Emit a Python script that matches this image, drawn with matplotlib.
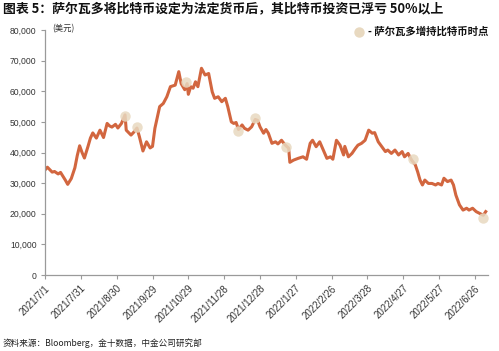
import numpy as np
import pandas as pd
import matplotlib
matplotlib.use('Agg')
import matplotlib.pyplot as plt
from matplotlib.ticker import FuncFormatter

# BTC price (USD)
dates = [
    '2021-07-01', '2021-07-03', '2021-07-07', '2021-07-09', '2021-07-12', '2021-07-14',
    '2021-07-18', '2021-07-20', '2021-07-23', '2021-07-26', '2021-07-28', '2021-07-30',
    '2021-08-01', '2021-08-03', '2021-08-06', '2021-08-08', '2021-08-10', '2021-08-13',
    '2021-08-16', '2021-08-19', '2021-08-22', '2021-08-24', '2021-08-26', '2021-08-29',
    '2021-08-31', '2021-09-03', '2021-09-06', '2021-09-07', '2021-09-11', '2021-09-13',
    '2021-09-16', '2021-09-18', '2021-09-21', '2021-09-24', '2021-09-27', '2021-09-29',
    '2021-10-01', '2021-10-05', '2021-10-08', '2021-10-11', '2021-10-14', '2021-10-18',
    '2021-10-21', '2021-10-23', '2021-10-26', '2021-10-28', '2021-10-29', '2021-10-31',
    '2021-11-02', '2021-11-04', '2021-11-06', '2021-11-09', '2021-11-12', '2021-11-15',
    '2021-11-18', '2021-11-20', '2021-11-23', '2021-11-26', '2021-11-29', '2021-12-01',
    '2021-12-04', '2021-12-06', '2021-12-08', '2021-12-10', '2021-12-13', '2021-12-15',
    '2021-12-18', '2021-12-21', '2021-12-24', '2021-12-26', '2021-12-28', '2021-12-31',
    '2022-01-02', '2022-01-04', '2022-01-07', '2022-01-10', '2022-01-12', '2022-01-15',
    '2022-01-18', '2022-01-21', '2022-01-22', '2022-01-25', '2022-01-29', '2022-02-02',
    '2022-02-05', '2022-02-08', '2022-02-10', '2022-02-13', '2022-02-16', '2022-02-19',
    '2022-02-22', '2022-02-25', '2022-02-27', '2022-03-02', '2022-03-05', '2022-03-08',
    '2022-03-09', '2022-03-12', '2022-03-15', '2022-03-18', '2022-03-20', '2022-03-23',
    '2022-03-26', '2022-03-29', '2022-04-01', '2022-04-03', '2022-04-06', '2022-04-09',
    '2022-04-12', '2022-04-14', '2022-04-17', '2022-04-20', '2022-04-23', '2022-04-26',
    '2022-04-28', '2022-05-01', '2022-05-04', '2022-05-07', '2022-05-09', '2022-05-11',
    '2022-05-13', '2022-05-15', '2022-05-18', '2022-05-21', '2022-05-24', '2022-05-26',
    '2022-05-29', '2022-05-31', '2022-06-03', '2022-06-06', '2022-06-08', '2022-06-10',
    '2022-06-13', '2022-06-16', '2022-06-19', '2022-06-21', '2022-06-24', '2022-06-27',
    '2022-06-30', '2022-07-03', '2022-07-05',
]
prices = [
    34300, 35200, 33600, 33800, 33000, 33500,
    31000, 29600, 31500, 35000, 39000, 42200,
    40000, 38200, 42000, 44700, 46400, 44700,
    47300, 44900, 49500, 48700, 48300, 49200,
    48000, 49500, 52300, 47300, 45700, 46500,
    48000, 45200, 40500, 43500, 41500, 42000,
    47900, 55000, 56000, 58200, 61500, 62000,
    66400, 62500, 60500, 62500, 59000, 61500,
    61000, 63100, 61500, 67500, 65300, 65800,
    59800, 57700, 58200, 56600, 57700, 55000,
    50000, 49500, 49800, 47500, 49000, 47900,
    47300, 48400, 50800, 50500, 48400, 46300,
    47500, 46300, 43000, 43500, 42800, 44000,
    42500, 41400, 36800, 37500, 38100, 38600,
    37800, 43000, 44000, 41900, 43500, 40800,
    38100, 38600, 37800, 44000, 42400, 39200,
    42000, 38600, 39700, 41400, 42400, 43000,
    44000, 47300, 46300, 46500, 43500, 41900,
    40300, 40800, 39700, 40800, 39200, 40300,
    38600, 39700, 37500, 36000, 33700, 31000,
    29400, 31000, 29900, 29900, 29400, 29900,
    29400, 31600, 30500, 31000, 29400, 26100,
    22900, 21200, 21800, 21200, 21800, 20700,
    20100, 19500, 20700,
]

# El Salvador purchase points
buy_dates = ['2021-09-06', '2021-09-16', '2021-10-27', '2021-12-10',
             '2021-12-24', '2022-01-19', '2022-05-05', '2022-07-03']
buy_prices = [52000, 48200, 62900, 47000, 51200, 41700, 37800, 18500]

tick_labels = ['2021/7/1', '2021/7/31', '2021/8/30', '2021/9/29', '2021/10/29',
               '2021/11/28', '2021/12/28', '2022/1/27', '2022/2/26', '2022/3/28',
               '2022/4/27', '2022/5/27', '2022/6/26']

title = '图表 5：萨尔瓦多将比特币设定为法定货币后，其比特币投资已浮亏 50%以上'
source = '资料来源：Bloomberg，金十数据，中金公司研究部'
legend_label = '- 萨尔瓦多增持比特币时点'

line_color = '#D2663F'
dot_color = '#E8D9C0'
axis_color = '#9A9A9A'
cjk = ['Noto Sans CJK SC', 'DejaVu Sans']

fig = plt.figure(figsize=(4.99, 3.51), dpi=100)
ax = fig.add_axes([0.0902, 0.2165, 0.8878, 0.698])

x = pd.to_datetime(dates)
ax.plot(x, prices, color=line_color, linewidth=2.2, solid_joinstyle='round', zorder=2)
ax.plot(pd.to_datetime(buy_dates), buy_prices, 'o', color=dot_color, markersize=7.5,
        alpha=0.85, markeredgewidth=0, zorder=3)

ax.set_ylim(0, 80000)
ax.set_yticks(np.arange(0, 80001, 10000))
ax.yaxis.set_major_formatter(FuncFormatter(lambda v, p: f'{int(v):,}'))

tick_pos = pd.to_datetime([pd.Timestamp(s.replace('/', '-')) for s in tick_labels])
ax.set_xticks(tick_pos)
ax.set_xticklabels(tick_labels, rotation=45, ha='right', rotation_mode='anchor')
ax.set_xlim(pd.Timestamp('2021-07-01'), pd.Timestamp('2022-07-06 22:00'))

for side in ['top', 'right']:
    ax.spines[side].set_visible(False)
for side in ['left', 'bottom']:
    ax.spines[side].set_color(axis_color)
    ax.spines[side].set_linewidth(0.9)
ax.tick_params(axis='both', colors=axis_color, length=3, width=0.8,
               labelcolor='#333333', labelsize=6.2, pad=3)
ax.tick_params(axis='x', labelsize=7)
for lab in ax.get_xticklabels() + ax.get_yticklabels():
    lab.set_family('Liberation Sans')

fig.text(0.006, 0.975, title, family=cjk, fontsize=9.3, fontweight='bold',
         ha='left', va='center', color='#111111')
fig.text(0.104, 0.917, '(美元)', family=cjk, fontsize=6, ha='left', va='center',
         color='#333333')
ax.plot([0.709], [0.993], 'o', transform=ax.transAxes, color=dot_color, markersize=7.5,
        markeredgewidth=0, clip_on=False)
fig.text(0.738, 0.91, legend_label, family=cjk, fontsize=7.5, fontweight='bold',
         ha='left', va='center', color='#111111')
fig.text(0.006, 0.022, source, family=cjk, fontsize=6.2, ha='left', va='center',
         color='#222222')

fig.savefig('out.png', dpi=100)
